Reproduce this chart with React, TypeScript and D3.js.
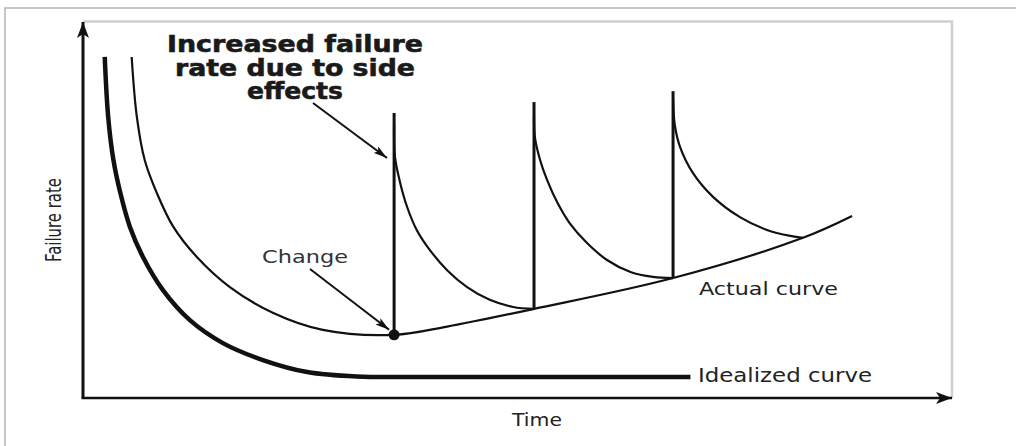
import React from "react";
import * as d3 from "d3";

// bathtub-style failure rate curves, values in arbitrary units (0-100)
const idealTime = [2.5, 2.9, 3.5, 4.3, 5.4, 6.9, 9.2, 12.3, 16.1, 20.7, 25.8, 31.5, 40.0, 69.9];
const idealRate = [90.7, 74.7, 63.3, 54.5, 45.5, 37.5, 28.7, 20.7, 14.6, 10.1, 6.9, 5.7, 5.6, 5.6];

const actualTime = [5.6, 6.2, 7.1, 8.5, 10.4, 13.1, 16.9, 21.9, 27.6, 35.8, 41.9, 51.9, 67.9, 82.85, 88.5];
const actualRate = [90.7, 74.7, 63.3, 54.5, 45.5, 37.5, 29.5, 22.6, 18.1, 16.8, 19.0, 23.7, 31.9, 42.6, 48.4];

// each change: time, base rate, spike peak
const changeTime = [35.8, 51.9, 67.9];
const changeBase = [16.8, 23.7, 31.9];
const changePeak = [75.8, 78.7, 81.6];

const decay1Time = [35.8, 35.9, 36.5, 37.3, 38.4, 39.9, 41.9, 44.2, 46.8, 49.5, 51.9];
const decay1Rate = [72.6, 64.1, 57.2, 50.8, 44.7, 39.4, 34.0, 29.5, 26.1, 24.2, 23.7];
const decay2Time = [51.9, 52.0, 52.6, 53.4, 54.6, 56.0, 58.0, 60.3, 63.0, 65.6, 67.9];
const decay2Rate = [75.3, 69.4, 63.3, 58.0, 51.9, 46.5, 41.2, 36.7, 33.5, 32.2, 31.9];
const decay3Time = [67.9, 68.1, 68.7, 70.2, 72.5, 75.6, 78.7, 81.4, 82.85];
const decay3Rate = [79.3, 72.6, 66.8, 59.8, 53.5, 48.1, 44.7, 43.1, 42.6];

const titleLines = ["Increased failure", "rate due to side", "effects"];
const titleWidths = [256, 240, 96];

const W = 1016;
const H = 446;
const x = d3.scaleLinear().domain([0, 100]).range([83, 952]);
const y = d3.scaleLinear().domain([0, 100]).range([398, 22]);

const zip = (t: number[], r: number[]) => t.map((v, i) => [v, r[i]] as [number, number]);

const line = d3
  .line<[number, number]>()
  .x((d) => x(d[0]))
  .y((d) => y(d[1]))
  .curve(d3.curveCatmullRom.alpha(0.5));

const font = "'DejaVu Sans', sans-serif";
const ink = "#111";

export default function App() {
  const decays = [
    zip(decay1Time, decay1Rate),
    zip(decay2Time, decay2Rate),
    zip(decay3Time, decay3Rate),
  ];
  const dotX = x(changeTime[0]);
  const dotY = y(changeBase[0]);

  return (
    <svg
      width={W}
      height={H}
      style={{ position: "absolute", left: 0, top: 0, background: "#fff" }}
    >
      <defs>
        <marker id="axisHead" viewBox="0 0 16 12" refX="16" refY="6" markerWidth="16" markerHeight="12" markerUnits="userSpaceOnUse" orient="auto">
          <path d="M0,0 L16,6 L0,12 L4,6 Z" fill={ink} />
        </marker>
        <marker id="noteHead" viewBox="0 0 14 8" refX="14" refY="4" markerWidth="14" markerHeight="8" markerUnits="userSpaceOnUse" orient="auto">
          <path d="M0,0 L14,4 L0,8 L3,4 Z" fill={ink} />
        </marker>
      </defs>

      {/* frame */}
      <path d={`M5,${H} L5,8 L${W},8`} fill="none" stroke="#b4b4b4" strokeWidth={1.5} />
      <path d={`M${x(0)},${y(100) - 0.5} L${x(100)},${y(100) - 0.5} L${x(100)},${y(0)}`} fill="none" stroke="#cfcfcf" strokeWidth={2.5} />

      {/* axes */}
      <line x1={x(0)} y1={y(0)} x2={x(0)} y2={y(100)} stroke={ink} strokeWidth={3} markerEnd="url(#axisHead)" />
      <line x1={x(0) - 1.5} y1={y(0)} x2={x(100)} y2={y(0)} stroke={ink} strokeWidth={2.5} markerEnd="url(#axisHead)" />

      {/* idealized curve */}
      <path d={line(zip(idealTime, idealRate)) || ""} fill="none" stroke={ink} strokeWidth={4.5} />

      {/* actual curve */}
      <path d={line(zip(actualTime, actualRate)) || ""} fill="none" stroke={ink} strokeWidth={2.2} />

      {/* spikes */}
      {changeTime.map((t, i) => (
        <line key={i} x1={x(t)} x2={x(t)} y1={y(changeBase[i])} y2={y(changePeak[i])} stroke={ink} strokeWidth={3} />
      ))}
      {decays.map((d, i) => (
        <path key={i} d={line(d) || ""} fill="none" stroke={ink} strokeWidth={2.2} />
      ))}

      <circle cx={dotX} cy={dotY} r={5.5} fill={ink} />

      {/* annotations */}
      <g fontFamily={font} fontWeight="bold" fontSize={23} fill="#1a1a1a" stroke="#1a1a1a" strokeWidth={0.6}>
        {titleLines.map((s, i) => (
          <text key={i} x={295 - titleWidths[i] / 2} y={52 + i * 23.5} textLength={titleWidths[i]} lengthAdjust="spacingAndGlyphs">
            {s}
          </text>
        ))}
      </g>
      <line x1={313} y1={103} x2={387} y2={158} stroke={ink} strokeWidth={2} markerEnd="url(#noteHead)" />

      <text x={262} y={263} fontFamily={font} fontSize={18} fill="#333" textLength={86} lengthAdjust="spacingAndGlyphs">
        Change
      </text>
      <line x1={310} y1={269} x2={dotX - 5} y2={dotY - 5} stroke={ink} strokeWidth={2} markerEnd="url(#noteHead)" />

      <text x={699} y={295} fontFamily={font} fontSize={18} fill="#222" textLength={139} lengthAdjust="spacingAndGlyphs">
        Actual curve
      </text>
      <text x={698} y={382} fontFamily={font} fontSize={19} fill="#222" textLength={174} lengthAdjust="spacingAndGlyphs">
        Idealized curve
      </text>
      <text x={512} y={426} fontFamily={font} fontSize={17} fill="#222" textLength={50} lengthAdjust="spacingAndGlyphs">
        Time
      </text>
      <text
        transform="translate(61,262) rotate(-90)"
        fontFamily={font}
        fontSize={21}
        fill="#222"
        textLength={84}
        lengthAdjust="spacingAndGlyphs"
      >
        Failure rate
      </text>
    </svg>
  );
}
